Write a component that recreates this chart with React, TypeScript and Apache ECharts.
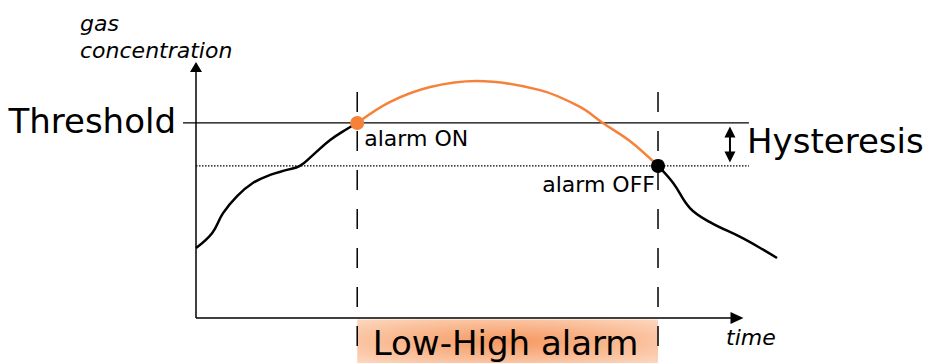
import React, { useEffect, useRef } from 'react';
import * as echarts from 'echarts';

// --- data (time and concentration in arbitrary units; arrows end at 100) ---
const riseTimes = [0, 3.0, 5.0, 7.6, 10.5, 13.7, 16.8, 19.2, 21.6, 24.8, 27.9, 29.8];
const riseValues = [27.9, 33.9, 41.8, 48.6, 53.8, 57.0, 59.0, 60.6, 64.9, 70.9, 75.3, 77.7];
const alarmTimes = [29.8, 35.9, 43.3, 51.9, 63.6, 71.0, 75.2, 80.2, 85.4];
const alarmValues = [77.7, 86.1, 92.0, 94.4, 90.8, 84.1, 77.7, 70.5, 60.6];
const fallTimes = [85.4, 88.2, 91.3, 95.0, 100.6, 104.3, 107.4];
const fallValues = [60.6, 53.8, 43.8, 38.2, 32.3, 27.9, 23.9];

const threshold = 77.7;
const releaseLevel = 60.6;
const alarmOn = 29.8;
const alarmOff = 85.4;
const thresholdSpan = [-2.4, 102.2];
const releaseSpan = [0, 102.2];
const markerSpan = [90.0, -17.9];
const hysteresisX = 98.7;
const hysteresisSpan = [74.1, 64.1];
const boxSpan = [-0.6, -17.9];
const axisEndX = 100;
const axisEndY = 100;
const viewX = [-4, 110];
const viewY = [-17.9, 100];

const FONT = '"DejaVu Sans", Verdana, sans-serif';
const ORANGE = '#f6823a';

const zip = (xs: number[], ys: number[]) => xs.map((x, i) => [x, ys[i]]);

export default function App() {
  const ref = useRef<HTMLDivElement>(null);

  useEffect(() => {
    if (!ref.current) return;
    const chart = echarts.init(ref.current, undefined, { renderer: 'svg' });
    const hidden = {
      axisLine: { show: false },
      axisTick: { show: false },
      axisLabel: { show: false },
      splitLine: { show: false },
    };
    chart.setOption({
      animation: false,
      backgroundColor: '#fff',
      grid: { left: 174.36, right: 133.9, top: 67, bottom: 0.07 },
      xAxis: { type: 'value', min: viewX[0], max: viewX[1], ...hidden },
      yAxis: { type: 'value', min: viewY[0], max: viewY[1], ...hidden },
      graphic: [
        { type: 'text', x: 80, y: 23, style: { text: 'gas', font: `italic 22px ${FONT}`, fill: '#000', verticalAlign: 'middle' } },
        { type: 'text', x: 80, y: 50, style: { text: 'concentration', font: `italic 22px ${FONT}`, fill: '#000', verticalAlign: 'middle' } },
        { type: 'text', x: 726, y: 337, style: { text: 'time', font: `italic 22px ${FONT}`, fill: '#000', verticalAlign: 'middle' } },
        { type: 'text', x: 176, y: 121, style: { text: 'Threshold', font: `34px ${FONT}`, fill: '#000', align: 'right', verticalAlign: 'middle' } },
        { type: 'text', x: 747, y: 141, style: { text: 'Hysteresis', font: `34px ${FONT}`, fill: '#000', verticalAlign: 'middle' } },
      ],
      series: [
        {
          type: 'custom',
          z: 1,
          clip: false,
          silent: true,
          encode: { x: [0, 1], y: [2, 3] },
          data: [[alarmOn, alarmOff, boxSpan[0], boxSpan[1]]],
          renderItem: (params: any, api: any) => {
            const tl = api.coord([api.value(0), api.value(2)]);
            const br = api.coord([api.value(1), api.value(3)]);
            return {
              type: 'group',
              children: [
                {
                  type: 'rect',
                  shape: { x: tl[0], y: tl[1], width: br[0] - tl[0], height: br[1] - tl[1] },
                  style: {
                    fill: new echarts.graphic.RadialGradient(0.5, 0.5, 0.7, [
                      { offset: 0, color: '#f59860' },
                      { offset: 0.5, color: '#f9b78e' },
                      { offset: 1, color: '#fdd7bf' },
                    ]),
                  },
                },
                {
                  type: 'text',
                  style: {
                    text: 'Low-High alarm',
                    x: (tl[0] + br[0]) / 2 - 2,
                    y: (tl[1] + br[1]) / 2 + 2,
                    fontSize: 34,
                    fontFamily: FONT,
                    fill: '#000',
                    align: 'center',
                    verticalAlign: 'middle',
                  },
                },
              ],
            };
          },
        },
        {
          type: 'line',
          name: 'xAxisLine',
          z: 5,
          symbolSize: [12, 13],
          showSymbol: true,
          itemStyle: { color: '#000' },
          lineStyle: { color: '#000', width: 1.5 },
          data: [
            { value: [0, 0], symbol: 'none' },
            { value: [axisEndX, 0], symbol: 'triangle', symbolRotate: -90 },
          ],
        },
        {
          type: 'line',
          name: 'yAxisLine',
          z: 5,
          symbolSize: [12, 10],
          showSymbol: true,
          itemStyle: { color: '#000' },
          lineStyle: { color: '#000', width: 1.5 },
          data: [
            { value: [0, 0], symbol: 'none' },
            { value: [0, axisEndY], symbol: 'triangle', symbolRotate: 0 },
          ],
        },
        {
          type: 'line',
          name: 'threshold',
          symbol: 'none',
          z: 2,
          lineStyle: { color: '#000', width: 1.3 },
          data: [[thresholdSpan[0], threshold], [thresholdSpan[1], threshold]],
        },
        {
          type: 'line',
          name: 'release',
          symbol: 'none',
          z: 2,
          lineStyle: { color: '#000', width: 1.4, type: [1.5, 1.5] },
          data: [[releaseSpan[0], releaseLevel], [releaseSpan[1], releaseLevel]],
        },
        {
          type: 'line',
          name: 'onMarker',
          symbol: 'none',
          z: 3,
          lineStyle: { color: '#000', width: 1.5, type: [20, 19] },
          data: [[alarmOn, markerSpan[0]], [alarmOn, markerSpan[1]]],
        },
        {
          type: 'line',
          name: 'offMarker',
          symbol: 'none',
          z: 3,
          lineStyle: { color: '#000', width: 1.5, type: [20, 19] },
          data: [[alarmOff, markerSpan[0]], [alarmOff, markerSpan[1]]],
        },
        {
          type: 'line',
          name: 'hysteresis',
          z: 3,
          symbolSize: [11, 11],
          showSymbol: true,
          itemStyle: { color: '#000' },
          lineStyle: { color: '#000', width: 2 },
          data: [
            { value: [hysteresisX, hysteresisSpan[0]], symbol: 'triangle', symbolRotate: 0 },
            { value: [hysteresisX, hysteresisSpan[1]], symbol: 'triangle', symbolRotate: 180 },
          ],
        },
        {
          type: 'line',
          name: 'rise',
          symbol: 'none',
          smooth: 0.4,
          z: 4,
          lineStyle: { color: '#000', width: 2.5 },
          data: zip(riseTimes, riseValues),
        },
        {
          type: 'line',
          name: 'alarm',
          symbol: 'none',
          smooth: 0.35,
          z: 4,
          lineStyle: { color: ORANGE, width: 2.5 },
          data: zip(alarmTimes, alarmValues),
        },
        {
          type: 'line',
          name: 'fall',
          symbol: 'none',
          smooth: 0.4,
          z: 4,
          lineStyle: { color: '#000', width: 2.5 },
          data: zip(fallTimes, fallValues),
        },
        {
          type: 'scatter',
          z: 6,
          symbolSize: 14,
          itemStyle: { opacity: 1 },
          data: [
            {
              value: [alarmOn, threshold],
              itemStyle: { color: ORANGE, opacity: 1 },
              label: {
                show: true,
                formatter: 'alarm ON',
                position: 'right',
                distance: 0,
                offset: [0, 16],
                fontSize: 22,
                fontFamily: FONT,
                color: '#000',
              },
            },
            {
              value: [alarmOff, releaseLevel],
              itemStyle: { color: '#000', opacity: 1 },
              label: {
                show: true,
                formatter: 'alarm OFF',
                position: 'left',
                distance: 0,
                offset: [4, 19],
                fontSize: 22,
                fontFamily: FONT,
                color: '#000',
              },
            },
          ],
        },
      ],
    });
    return () => chart.dispose();
  }, []);

  return (
    <div
      ref={ref}
      style={{ position: 'fixed', left: 0, top: 0, width: 925, height: 363, background: '#fff' }}
    />
  );
}
